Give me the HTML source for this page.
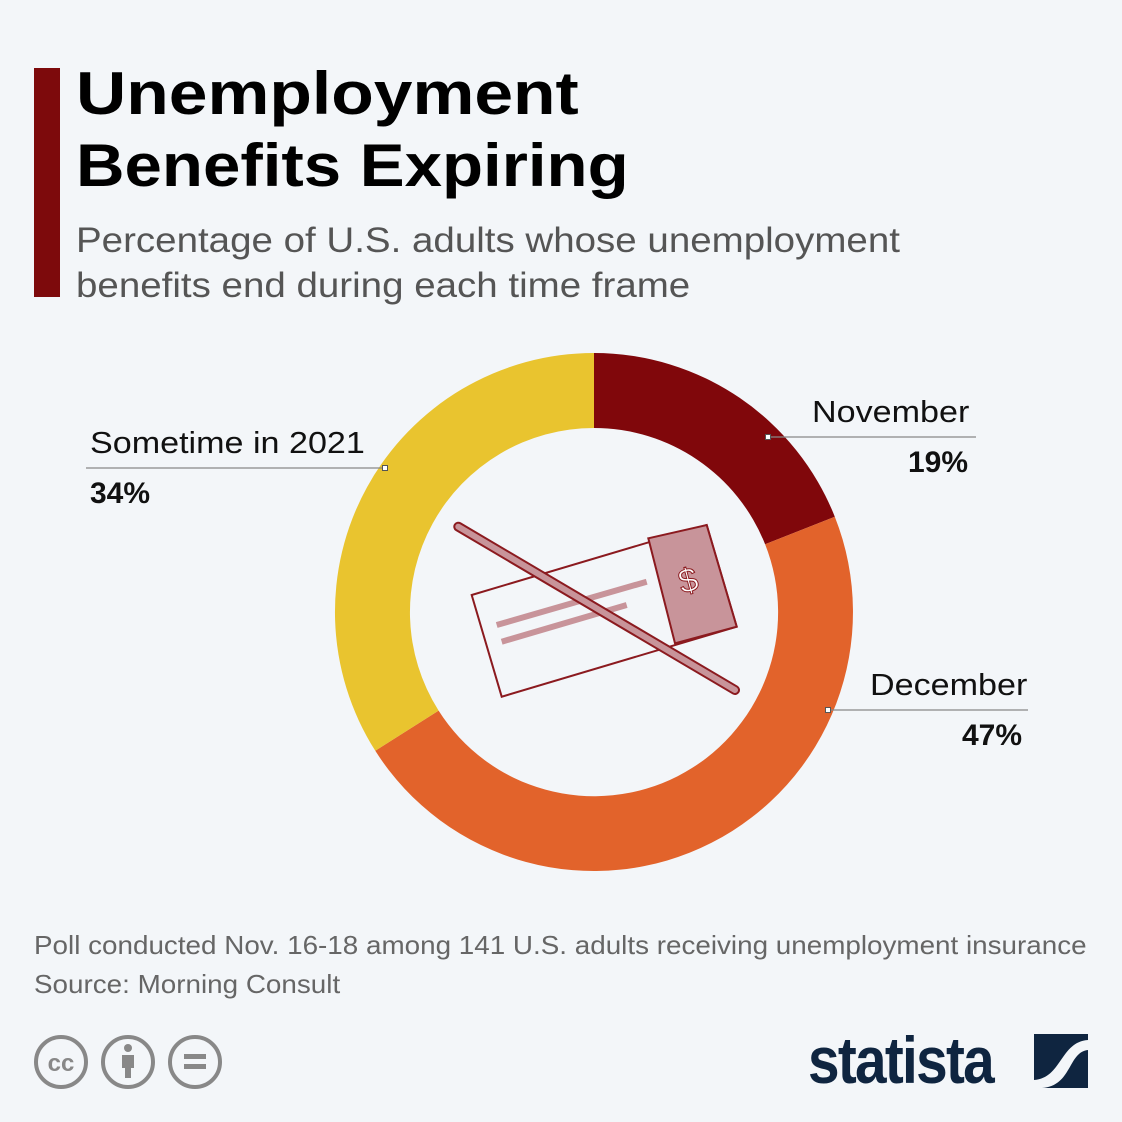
<!DOCTYPE html>
<html><head><meta charset="utf-8"><style>
body{margin:0;width:1122px;height:1122px;background:#f3f6f9;font-family:"Liberation Sans",sans-serif;overflow:hidden;position:relative}
.t{position:absolute;white-space:nowrap;transform-origin:left top}
</style></head><body>
<div style="position:absolute;left:34px;top:68px;width:26px;height:229px;background:#7d0a0c"></div>
<div class="t" style="left:76px;top:58px;font-size:60px;font-weight:bold;line-height:72px;color:#000;transform:scaleX(1.16)">Unemployment</div>
<div class="t" style="left:76px;top:130px;font-size:60px;font-weight:bold;line-height:72px;color:#000;transform:scaleX(1.12)">Benefits Expiring</div>
<div class="t" style="left:76px;top:218px;font-size:35px;line-height:45px;color:#555;transform:scaleX(1.1)">Percentage of U.S. adults whose unemployment<br>benefits end during each time frame</div>
<svg width="1122" height="1122" style="position:absolute;left:0;top:0">
<path d="M594 353 A259 259 0 0 1 834.8 516.7 L765.1 544.3 A184 184 0 0 0 594 428Z" fill="#80070b"/>
<path d="M834.8 516.7 A259 259 0 0 1 375.3 750.8 L438.6 710.6 A184 184 0 0 0 765.1 544.3Z" fill="#e2632b"/>
<path d="M375.3 750.8 A259 259 0 0 1 594 353 L594 428 A184 184 0 0 0 438.6 710.6Z" fill="#e9c42f"/>
<g stroke="#888" stroke-width="1.3" fill="none">
<line x1="768" y1="437" x2="976" y2="437"/>
<line x1="86" y1="468" x2="385" y2="468"/>
<line x1="828" y1="710" x2="1028" y2="710"/>
</g>
<g fill="#fff" stroke="#555" stroke-width="1">
<rect x="765.5" y="434.5" width="5" height="5"/><rect x="382.5" y="465.5" width="5" height="5"/><rect x="825.5" y="707.5" width="5" height="5"/>
</g>
<polygon points="471.7,595 706.7,525 736.7,626.7 501.7,696.7" fill="#f3f6f9" stroke="#8b1a1f" stroke-width="2"/>
<polygon points="648.3,538.3 706.7,525 736.7,626.7 675,643.3" fill="#c8949a" stroke="#8b1a1f" stroke-width="2"/>
<line x1="496.7" y1="625" x2="646.7" y2="581.7" stroke="#c8949a" stroke-width="6"/>
<line x1="501.7" y1="641.7" x2="626.7" y2="605" stroke="#c8949a" stroke-width="6"/>
<text x="688" y="592" font-size="34" fill="#fff" stroke="#8b1a1f" stroke-width="1" text-anchor="middle" font-family="Liberation Sans" transform="rotate(-15 688 580)">$</text>
<line x1="458.3" y1="526.7" x2="735" y2="690" stroke="#8b1a1f" stroke-width="10" stroke-linecap="round"/>
<line x1="458.3" y1="526.7" x2="735" y2="690" stroke="#c8949a" stroke-width="6" stroke-linecap="round"/>
<g fill="none" stroke="#888" stroke-width="4">
<circle cx="61" cy="1062" r="25"/><circle cx="128" cy="1062" r="25"/><circle cx="195" cy="1062" r="25"/></g>
<text x="61" y="1071" font-size="24" font-weight="bold" fill="#888" text-anchor="middle" font-family="Liberation Sans">cc</text>
<circle cx="128" cy="1048" r="4" fill="#888"/><rect x="122" y="1055" width="12" height="13" fill="#888"/><rect x="125" y="1066" width="6" height="12" fill="#888"/>
<rect x="184" y="1054" width="22" height="5" fill="#888"/><rect x="184" y="1064" width="22" height="5" fill="#888"/>
<rect x="1034" y="1034" width="54" height="54" fill="#0f2540"/>
<path d="M1034 1080 C1062 1078 1060 1042 1088 1040 L1088 1050 C1068 1052 1072 1086 1042 1088 L1034 1088Z" fill="#f3f6f9"/>
</svg>
<div class="t" style="left:812px;top:394px;font-size:31px;color:#111;transform:scaleX(1.1)">November</div>
<div class="t" style="left:908px;top:446px;font-size:30px;font-weight:bold;color:#111">19%</div>
<div class="t" style="left:90px;top:425px;font-size:31px;color:#111;transform:scaleX(1.1)">Sometime in 2021</div>
<div class="t" style="left:90px;top:477px;font-size:30px;font-weight:bold;color:#111">34%</div>
<div class="t" style="left:870px;top:667px;font-size:31px;color:#111;transform:scaleX(1.1)">December</div>
<div class="t" style="left:962px;top:719px;font-size:30px;font-weight:bold;color:#111">47%</div>
<div class="t" style="left:34px;top:926px;font-size:26px;line-height:39px;color:#666;transform:scaleX(1.07)">Poll conducted Nov. 16-18 among 141 U.S. adults receiving unemployment insurance<br>Source: Morning Consult</div>
<div class="t" style="left:808px;top:1022px;font-size:66px;font-weight:bold;color:#0f2540;letter-spacing:-2px;transform:scaleX(0.86)">statista</div>
</body></html>
